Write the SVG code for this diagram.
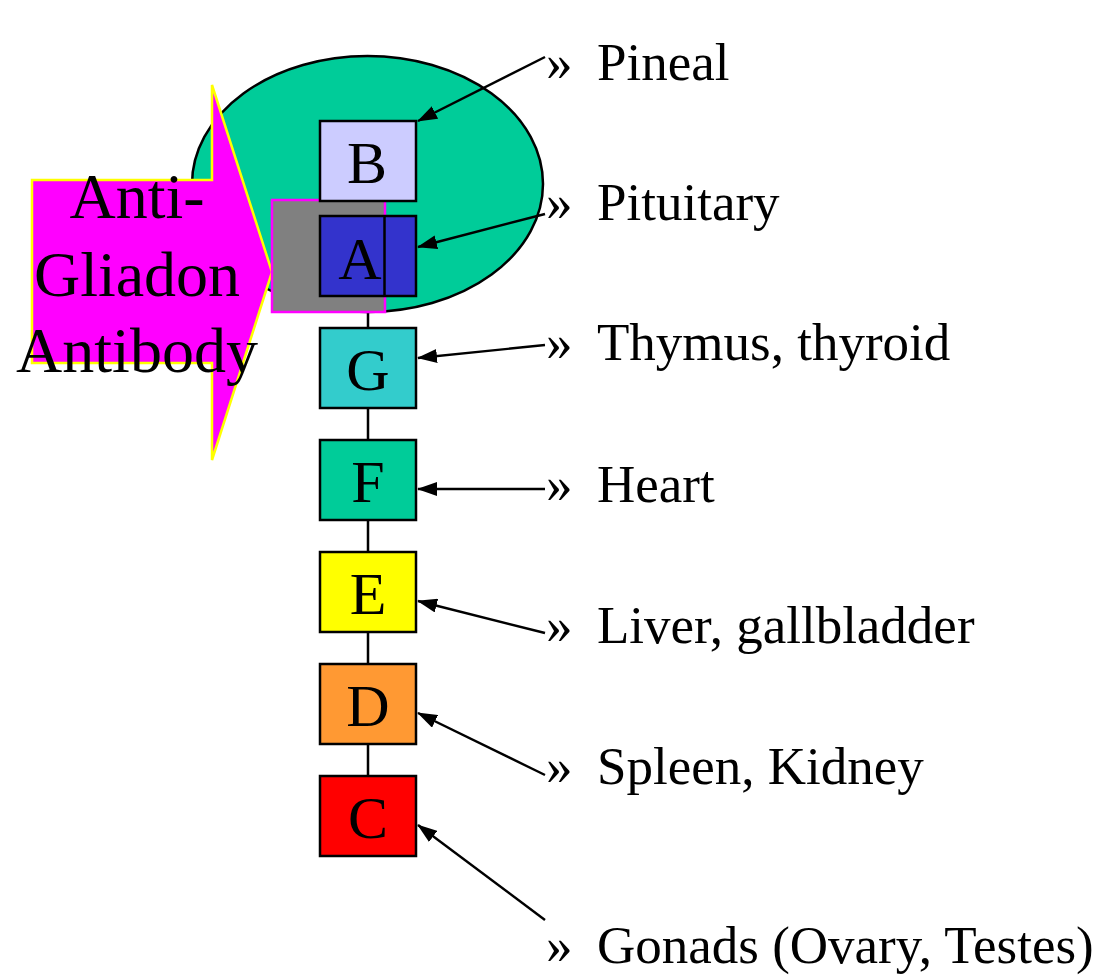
<svg xmlns="http://www.w3.org/2000/svg" width="1106" height="976" viewBox="0 0 1106 976">
<defs>
<style>
.box{stroke:#000;stroke-width:2.5}
.let{font-family:"Liberation Serif","Times New Roman",serif;font-size:60px;text-anchor:middle;fill:#000}
.lab{font-family:"Liberation Serif","Times New Roman",serif;font-size:53px;fill:#000}
.big{font-family:"Liberation Serif","Times New Roman",serif;font-size:64px;text-anchor:middle;fill:#000}
.con{stroke:#000;stroke-width:2.4;fill:none}
</style>
<marker id="ah" viewBox="0 0 20 14" refX="19" refY="7" markerWidth="20" markerHeight="14" markerUnits="userSpaceOnUse" orient="auto" preserveAspectRatio="none">
<path d="M0,0 L20,7 L0,14 z" fill="#000"/>
</marker>
</defs>
<rect width="1106" height="976" fill="#fff"/>
<g id="head">
<ellipse cx="367.5" cy="184" rx="175.5" ry="128" fill="#00CC99" stroke="#000" stroke-width="2.5"/>
</g>
<g id="spine">
<line x1="368" y1="296" x2="368" y2="776" stroke="#000" stroke-width="2.5"/>
</g>
<g id="antibody">
<polygon points="32,180 212,180 212,85 272,272 212,460 212,363 32,363" fill="#FF00FF" stroke="#FFFF00" stroke-width="2.5"/>
</g>
<g id="blocker">
<rect x="272" y="200" width="113" height="112" fill="#808080" stroke="#FF00FF" stroke-width="2.5"/>
</g>
<g id="nodeB"><rect class="box" x="320" y="121" width="96" height="80" fill="#CCCCFF"/><text class="let" x="367" y="183">B</text></g>
<g id="nodeA"><rect class="box" x="320" y="216" width="96" height="80" fill="#3333CC"/><line x1="384.5" y1="216" x2="384.5" y2="296" stroke="#000" stroke-width="2.5"/><text class="let" x="360" y="279">A</text></g>
<g id="nodeG"><rect class="box" x="320" y="328" width="96" height="80" fill="#33CCCC"/><text class="let" x="368" y="390">G</text></g>
<g id="nodeF"><rect class="box" x="320" y="440" width="96" height="80" fill="#00CC99"/><text class="let" x="368" y="502">F</text></g>
<g id="nodeE"><rect class="box" x="320" y="552" width="96" height="80" fill="#FFFF00"/><text class="let" x="368" y="614">E</text></g>
<g id="nodeD"><rect class="box" x="320" y="664" width="96" height="80" fill="#FF9933"/><text class="let" x="368" y="726">D</text></g>
<g id="nodeC"><rect class="box" x="320" y="776" width="96" height="80" fill="#FF0000"/><text class="let" x="368" y="838">C</text></g>
<g id="antibody-label">
<text class="big" x="137" y="218">Anti-</text>
<text class="big" x="137" y="296">Gliadon</text>
<text class="big" x="137" y="372">Antibody</text>
</g>
<g id="connectors">
<line class="con" x1="545" y1="57" x2="418" y2="121" marker-end="url(#ah)"/>
<line class="con" x1="545" y1="214" x2="418" y2="247" marker-end="url(#ah)"/>
<line class="con" x1="545" y1="345" x2="418" y2="358" marker-end="url(#ah)"/>
<line class="con" x1="545" y1="489" x2="418" y2="489" marker-end="url(#ah)"/>
<line class="con" x1="545" y1="633" x2="418" y2="601" marker-end="url(#ah)"/>
<line class="con" x1="545" y1="775" x2="418" y2="713" marker-end="url(#ah)"/>
<line class="con" x1="545" y1="920" x2="418" y2="825" marker-end="url(#ah)"/>
</g>
<g id="labels">
<text class="lab" x="546" y="80">»</text><text class="lab" x="597" y="80">Pineal</text>
<text class="lab" x="546" y="220">»</text><text class="lab" x="597" y="220">Pituitary</text>
<text class="lab" x="546" y="360">»</text><text class="lab" x="597" y="360">Thymus, thyroid</text>
<text class="lab" x="546" y="502">»</text><text class="lab" x="597" y="502">Heart</text>
<text class="lab" x="546" y="643">»</text><text class="lab" x="597" y="643">Liver, gallbladder</text>
<text class="lab" x="546" y="784">»</text><text class="lab" x="597" y="784">Spleen, Kidney</text>
<text class="lab" x="546" y="963">»</text><text class="lab" x="597" y="963">Gonads (Ovary, Testes)</text>
</g>
</svg>
